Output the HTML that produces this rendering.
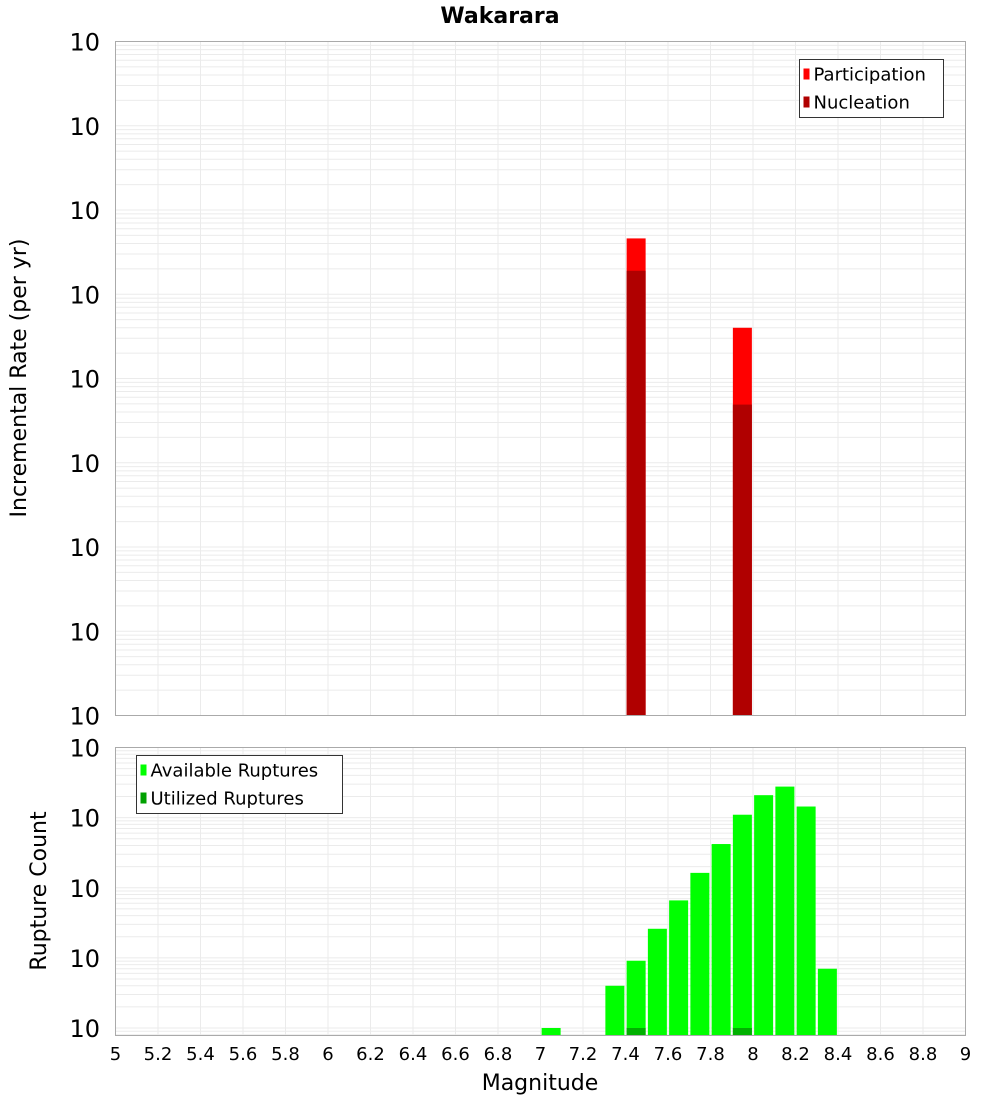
<!DOCTYPE html>
<html><head><meta charset="utf-8"><style>
body{margin:0;background:#fff;}
svg{display:block;font-family:"Liberation Sans","DejaVu Sans",sans-serif;}
</style></head><body>
<svg id="chart" width="1000" height="1100" viewBox="0 0 1000 1100" xmlns="http://www.w3.org/2000/svg">
<text x="500" y="23" text-anchor="middle" font-size="22" font-weight="bold" font-family="DejaVu Sans, sans-serif">Wakarara</text>
<g id="top"></g><g id="bot"></g>
<text transform="translate(26,378) rotate(-90)" text-anchor="middle" font-size="22" font-family="DejaVu Sans, sans-serif">Incremental Rate (per yr)</text>
<text transform="translate(46,891) rotate(-90)" text-anchor="middle" font-size="22" font-family="DejaVu Sans, sans-serif">Rupture Count</text>
<text x="540" y="1090" text-anchor="middle" font-size="22" font-family="DejaVu Sans, sans-serif">Magnitude</text>
</svg>
<script>
const rateMags=[7.45,7.95];
const participation=[4.6e-5,4.0e-6];
const nucleation=[1.9e-5,4.9e-7];
const countMags=[7.05,7.35,7.45,7.55,7.65,7.75,7.85,7.95,8.05,8.15,8.25,8.35];
const available=[1,4,9.1,26,66,163,420,1100,2090,2770,1440,7];
const utilizedMags=[7.45,7.95];
const utilized=[1,1];
const xTicks=[5,5.2,5.4,5.6,5.8,6,6.2,6.4,6.6,6.8,7,7.2,7.4,7.6,7.8,8,8.2,8.4,8.6,8.8,9];
const topExps=[-2,-3,-4,-5,-6,-7,-8,-9,-10];
const botExps=[0,1,2,3,4];

const NS="http://www.w3.org/2000/svg";
const X0=115.5,X1=965.5;
const xs=m=>X0+(m-5)/4*(X1-X0);
function el(p,t,a){const e=document.createElementNS(NS,t);for(const k in a)e.setAttribute(k,a[k]);p.appendChild(e);return e;}
function panel(g,top,bot,lmin,lmax,name){
 const ys=v=>bot-(Math.log10(v)-lmin)/(lmax-lmin)*(bot-top);
 for(let d=Math.floor(lmin);d<lmax;d++)for(let k=1;k<10;k++){const v=k*Math.pow(10,d);const y=ys(v);if(y<top||y>bot)continue;
  const l=el(g,'line',{x1:X0,x2:X1,y1:y,y2:y,stroke:'#ebebeb','stroke-width':1});
  
  }
 xTicks.forEach(t=>{const l=el(g,'line',{x1:xs(t),x2:xs(t),y1:top,y2:bot,stroke:'#ebebeb','stroke-width':1});
  
  });
 return ys;
}
function ylab(g,y,e,name){const t=el(g,'text',{x:100,y:y+9,'text-anchor':'end','font-size':24,'font-family':'DejaVu Sans, sans-serif'});
 
 
 t.textContent='10';
 const s=el(g,'tspan',{dy:-17,'font-size':16});s.textContent=String(e);}
function bar(g,m,v,ys,bot,fill,name){const w=19;const y=ys(v);
 const r=el(g,'rect',{x:xs(m)-w/2,y:y,width:w,height:bot-y,fill:fill});
 
 }
function frame(g,top,bot,name){const r=el(g,'rect',{x:X0,y:top,width:X1-X0,height:bot-top,fill:'none',stroke:'#aaa','stroke-width':1});
 
 }
function legend(g,x,y,w,items,name){const r=el(g,'rect',{x:x,y:y,width:w,height:58,fill:'#fff',stroke:'#333','stroke-width':1});
 
 
 items.forEach((it,i)=>{const sw=el(g,'rect',{x:x+4,y:y+9+i*28,width:6,height:11,fill:it[1]});
  
  
  const t=el(g,'text',{x:x+14,y:y+21+i*28,'font-size':18,'font-family':'DejaVu Sans, sans-serif'});
  
  
  t.textContent=it[0];});}
// top
const gt=document.getElementById('top');
const TT=41.5,TB=715.5;
const yt=panel(gt,TT,TB,-10,-2,'top');
rateMags.forEach((m,i)=>{bar(gt,m,participation[i],yt,TB,'#ff0000','participation-bar');bar(gt,m,nucleation[i],yt,TB,'#b00000','nucleation-bar');});
frame(gt,TT,TB,'top');
topExps.forEach(e=>ylab(gt,yt(Math.pow(10,e)),e,'top'));
legend(gt,799.5,59.5,144,[['Participation','#ff0000'],['Nucleation','#b00000']],'top-legend');
// bottom
const gb=document.getElementById('bot');
const BT=747.5,BB=1035.5;
const yb=panel(gb,BT,BB,Math.log10(1)-(BB-1028)/((1028-BT)/4),4,'bottom');
countMags.forEach((m,i)=>bar(gb,m,available[i],yb,BB,'#00ff00','available-bar'));
utilizedMags.forEach((m,i)=>bar(gb,m,utilized[i],yb,BB,'#00b000','utilized-bar'));
frame(gb,BT,BB,'bottom');
botExps.forEach(e=>ylab(gb,yb(Math.pow(10,e)),e,'bottom'));
legend(gb,136.5,755.5,206,[['Available Ruptures','#00ff00'],['Utilized Ruptures','#00a000']],'bottom-legend');
xTicks.forEach(t=>{const tx=el(gb,'text',{x:xs(t),y:1060,'text-anchor':'middle','font-size':18,'font-family':'DejaVu Sans, sans-serif'});
 
 
 tx.textContent=String(t);});
</script>
</body></html>
